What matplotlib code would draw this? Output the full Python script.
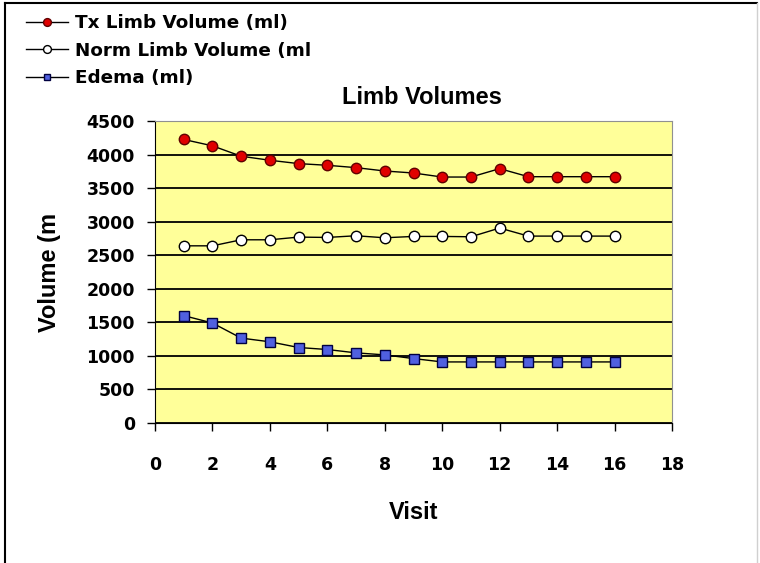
import matplotlib
matplotlib.use("Agg")
import matplotlib.pyplot as plt
from matplotlib.lines import Line2D

visits = list(range(1, 17))
tx_volume = [4225, 4130, 3975, 3915, 3865, 3840, 3805, 3755, 3725, 3665, 3665, 3790, 3670, 3670, 3670, 3670]
norm_volume = [2640, 2640, 2730, 2730, 2770, 2765, 2790, 2760, 2780, 2780, 2775, 2905, 2785, 2785, 2785, 2785]
edema = [1600, 1490, 1265, 1210, 1125, 1095, 1045, 1015, 960, 910, 910, 910, 910, 910, 910, 910]

x_ticks = list(range(0, 19, 2))
y_ticks = list(range(0, 4501, 500))

plt.rcParams['font.family'] = ['Liberation Sans', 'DejaVu Sans']

W, H = 760, 563
fig = plt.figure(figsize=(W / 100, H / 100), dpi=100)
ax = fig.add_axes([155 / W, 1 - 423 / H, (672 - 155) / W, (423 - 121) / H])
ax.set_facecolor('#FFFF99')

l1, = ax.plot(visits, tx_volume, color='black', lw=1, marker='o', ms=7.5,
              mfc='#E00000', mec='#600000', mew=1, label='Tx Limb Volume (ml)')
l2, = ax.plot(visits, norm_volume, color='black', lw=1, marker='o', ms=7.5,
              mfc='white', mec='black', mew=1, label='Norm Limb Volume (ml')
l3, = ax.plot(visits, edema, color='black', lw=1, marker='s', ms=6.5,
              mfc='#5060E0', mec='#000040', mew=1, label='Edema (ml)')

ax.set_xlim(0, 18)
ax.set_ylim(0, 4500)
ax.set_xticks(x_ticks)
ax.set_yticks(y_ticks)
ax.yaxis.grid(True, color='black', lw=1.3)
ax.set_axisbelow(True)
for s in ['top', 'right']:
    ax.spines[s].set_color('#909090')
ax.tick_params(axis='both', direction='out', length=6, width=1)
ax.tick_params(axis='y', pad=8.5)
ax.tick_params(axis='x', pad=18)
for lab in ax.get_xticklabels() + ax.get_yticklabels():
    lab.set_fontweight('bold')
    lab.set_fontsize(12.5)
    lab.set_family('DejaVu Sans')

ax.set_xlabel('Visit', fontsize=17, fontweight='bold')
ax.xaxis.set_label_coords((414 - 155) / 517, -(501 - 423) / 302)
ax.set_ylabel('Volume (m', fontsize=17, fontweight='bold')
ax.yaxis.set_label_coords((61 - 155) / 517, 0.5)
fig.text(422 / W, 1 - 98 / H, 'Limb Volumes', fontsize=17, fontweight='bold',
         ha='center', va='center')

fig.legend(handles=[l1, l2, l3], loc='upper left', bbox_to_anchor=(26 / W, 1 - 14 / H),
           frameon=False, prop={'family': 'DejaVu Sans', 'weight': 'bold', 'size': 13.2},
           handlelength=2.3, handletextpad=0.38, labelspacing=0.52, borderpad=0,
           borderaxespad=0, markerscale=0.75)

# outer frame of the chart area
fig.lines.append(Line2D([5 / W, 5 / W], [0, 1 - 3 / H], transform=fig.transFigure, color='black', lw=1.5))
fig.lines.append(Line2D([5 / W, 757 / W], [1 - 3 / H, 1 - 3 / H], transform=fig.transFigure, color='black', lw=1.5))
fig.lines.append(Line2D([757 / W, 757 / W], [0, 1 - 3 / H], transform=fig.transFigure, color='#d0d0d0', lw=1))

fig.savefig('out.png', dpi=100)
